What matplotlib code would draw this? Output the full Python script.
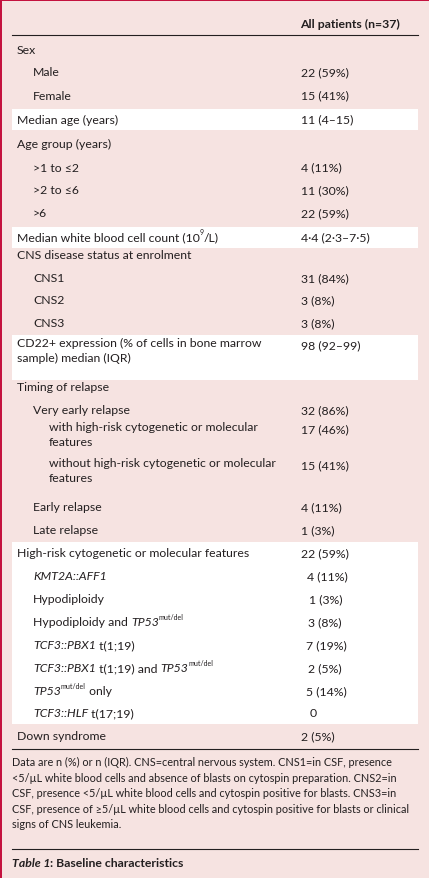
import matplotlib
matplotlib.use("Agg")
import matplotlib.pyplot as plt
from matplotlib.patches import Rectangle

FONT = "Lato"
PINK = "#f6e3e1"
CRIMSON = "#c4123f"

labels = [
    [("Sex", "n")],
    [("Male", "n")],
    [("Female", "n")],
    [("Median age (years)", "n")],
    [("Age group (years)", "n")],
    [(">1 to ≤2", "n")],
    [(">2 to ≤6", "n")],
    [(">6", "n")],
    [("Median white blood cell count (10", "n"), ("9", "sup"), ("/L)", "n")],
    [("CNS disease status at enrolment", "n")],
    [("CNS1", "n")],
    [("CNS2", "n")],
    [("CNS3", "n")],
    [("CD22+ expression (% of cells in bone marrow\nsample) median (IQR)", "n")],
    [("Timing of relapse", "n")],
    [("Very early relapse", "n")],
    [("with high-risk cytogenetic or molecular\nfeatures", "n")],
    [("without high-risk cytogenetic or molecular\nfeatures", "n")],
    [("Early relapse", "n")],
    [("Late relapse", "n")],
    [("High-risk cytogenetic or molecular features", "n")],
    [("KMT2A::AFF1", "i")],
    [("Hypodiploidy", "n")],
    [("Hypodiploidy and ", "n"), ("TP53", "i"), ("mut/del", "sup")],
    [("TCF3::PBX1", "i"), (" t(1;19)", "n")],
    [("TCF3::PBX1", "i"), (" t(1;19) and ", "n"), ("TP53", "i"), ("mut/del", "sup")],
    [("TP53", "i"), ("mut/del", "sup"), (" only", "n")],
    [("TCF3::HLF", "i"), (" t(17;19)", "n")],
    [("Down syndrome", "n")],
]
values = ["", "22 (59%)", "15 (41%)", "11 (4–15)", "", "4 (11%)", "11 (30%)", "22 (59%)",
          "4·4 (2·3–7·5)", "", "31 (84%)", "3 (8%)", "3 (8%)", "98 (92–99)", "",
          "32 (86%)", "17 (46%)", "15 (41%)", "4 (11%)", "1 (3%)", "22 (59%)",
          "4 (11%)", "1 (3%)", "3 (8%)", "7 (19%)", "2 (5%)", "5 (14%)", "0", "2 (5%)"]
indents = [0, 1, 1, 0, 0, 1, 1, 1, 0, 0, 1, 1, 1, 0, 0, 1, 2, 2, 1, 1, 0, 1, 1, 1, 1, 1, 1, 1, 0]
ys = [50, 73, 96, 120, 144, 168, 191, 214, 238, 256, 279, 301, 324, 346, 388, 411, 430, 466,
      508, 531, 554, 577, 600, 623, 646, 669, 692, 714, 737]
white_bands = [(110, 131), (228, 249), (336, 381), (543, 725)]
val_x = [301]*21 + [307, 309, 308, 306, 308, 306, 310, 301]

footnote = ("Data are n (%) or n (IQR). CNS=central nervous system. CNS1=in CSF, presence\n"
            "<5/µL white blood cells and absence of blasts on cytospin preparation. CNS2=in\n"
            "CSF, presence <5/µL white blood cells and cytospin positive for blasts. CNS3=in\n"
            "CSF, presence of ≥5/µL white blood cells and cytospin positive for blasts or clinical\n"
            "signs of CNS leukemia.")

W, H = 429, 879
fig = plt.figure(figsize=(W/100, H/100), dpi=100)
fig.patch.set_facecolor("white")
ax = fig.add_axes([0, 0, 1, 1])
ax.set_xlim(0, W); ax.set_ylim(H, 0); ax.axis("off")
ax.add_patch(Rectangle((0, 0), W, H, facecolor=PINK, edgecolor="none"))
ax.add_patch(Rectangle((0, 0), 2, H, facecolor=CRIMSON, edgecolor="none"))
ax.add_patch(Rectangle((0, 0), W, 2, facecolor=CRIMSON, edgecolor="none"))

for y0, y1 in white_bands:
    ax.add_patch(Rectangle((12, y0), 406, y1 - y0, facecolor="white", edgecolor="none"))

FS = 8.8
ax.text(300, 24, "All patients (n=37)", fontsize=FS, fontweight="bold", family=FONT,
        va="center", ha="left", color="#231f20")
ax.plot([12, 418], [36, 36], color="#231f20", lw=0.8)

fig.canvas.draw()
r = fig.canvas.get_renderer()

def draw_segments(x, y, segs):
    for txt, st in segs:
        if st == "sup":
            t = ax.text(x, y - 5, txt, fontsize=5, family=FONT, va="center", ha="left", color="#231f20")
        else:
            multi = "\n" in txt
            t = ax.text(x, y - 8 if multi else y, txt, fontsize=FS, family=FONT,
                        va="top" if multi else "center", ha="left",
                        style="italic" if st == "i" else "normal", color="#231f20",
                        linespacing=1.45)
        bb = t.get_window_extent(renderer=r)
        x += bb.width * (W / fig.bbox.width)

for segs, v, ind, y, vx in zip(labels, values, indents, ys, val_x):
    draw_segments(17 + 16*ind, y, segs)
    if v:
        ax.text(vx, y, v, fontsize=FS, family=FONT, va="center", ha="left", color="#231f20")

ax.plot([12, 418], [750, 750], color="#231f20", lw=0.8)
ax.text(12, 757, footnote, fontsize=7.8, family=FONT, va="top", ha="left", color="#231f20",
        linespacing=1.5)
ax.plot([12, 418], [850, 850], color="#231f20", lw=0.8)
t1 = ax.text(12, 864, "Table 1", fontsize=8.8, family=FONT, style="italic", fontweight="bold",
             va="center", ha="left", color="#231f20")
w1 = t1.get_window_extent(renderer=r).width * (W / fig.bbox.width)
ax.text(12 + w1, 864, ": Baseline characteristics", fontsize=8.8, family=FONT, fontweight="bold",
        va="center", ha="left", color="#231f20")

fig.savefig("out.png", dpi=100)
